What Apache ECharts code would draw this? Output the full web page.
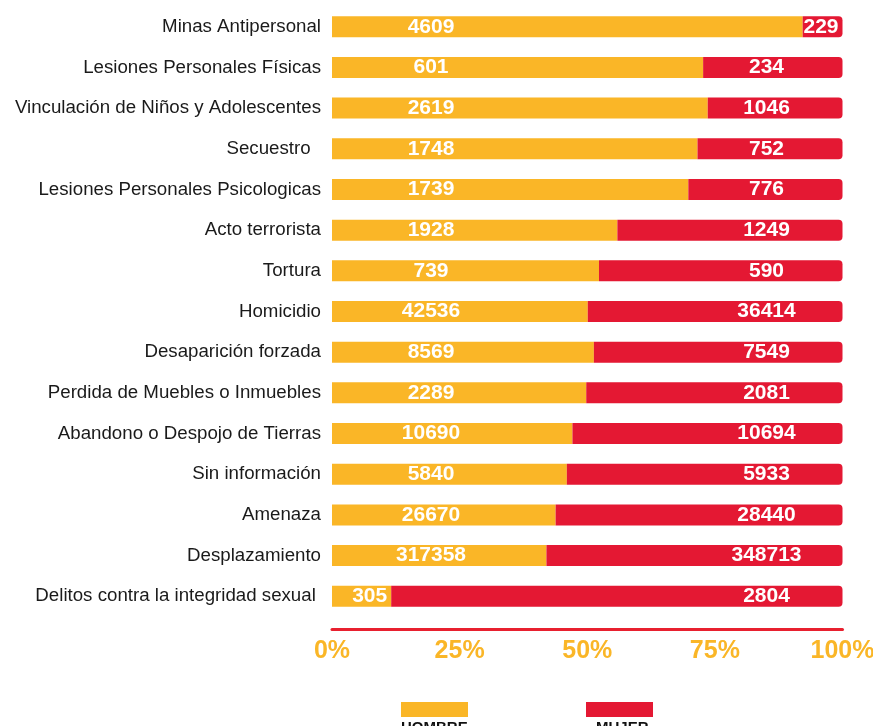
<!DOCTYPE html>
<html>
<head>
<meta charset="utf-8">
<script src="https://cdn.jsdelivr.net/npm/echarts@6/dist/echarts.min.js"></script>
<style>
  html, body { margin: 0; padding: 0; background: #fff; }
  #chart { width: 873px; height: 726px; }
</style>
</head>
<body>
<div id="chart"></div>
<script>
// categorias (de arriba hacia abajo)
var categorias = [
    "Minas Antipersonal",
    "Lesiones Personales Físicas",
    "Vinculación de Niños y Adolescentes",
    "Secuestro  ",
    "Lesiones Personales Psicologicas",
    "Acto terrorista",
    "Tortura",
    "Homicidio",
    "Desaparición forzada",
    "Perdida de Muebles o Inmuebles",
    "Abandono o Despojo de Tierras",
    "Sin información",
    "Amenaza",
    "Desplazamiento",
    "Delitos contra la integridad sexual "
];
// cantidades (etiquetas)
var hombreTotal = [4609, 601, 2619, 1748, 1739, 1928, 739, 42536, 8569, 2289, 10690, 5840, 26670, 317358, 305];
var mujerTotal  = [229, 234, 1046, 752, 776, 1249, 590, 36414, 7549, 2081, 10694, 5933, 28440, 348713, 2804];
var hombrePct = [92.2, 72.7, 73.6, 71.6, 69.8, 55.9, 52.3, 50.1, 51.3, 49.8, 47.1, 46.0, 43.8, 42.0, 11.6];
var mujerPct  = [7.8, 27.3, 26.4, 28.4, 30.2, 44.1, 47.7, 49.9, 48.7, 50.2, 52.9, 54.0, 56.2, 58.0, 88.4];
var ejeTicks = [0, 25, 50, 75, 100];

var NARANJA = '#FAB627';
var ROJO = '#E41833';

var chart = echarts.init(document.getElementById('chart'));

// barras cortas: etiqueta pegada al borde derecho
function armarDatos(valores) {
    return valores.map(function (v) {
        if (v < 15) {
            return { value: v, label: { position: 'insideRight', distance: 4, align: 'right' } };
        }
        return v;
    });
}

var etiqueta = {
    show: true,
    color: '#fff',
    fontFamily: 'Liberation Sans, Arial, sans-serif',
    fontWeight: 'bold',
    fontSize: 21,
    align: 'center',
    verticalAlign: 'middle'
};

var option = {
    animation: false,
    backgroundColor: '#fff',
    grid: { left: 332, right: 30.5, top: 6.4, bottom: 109.4, containLabel: false, outerBoundsMode: 'none' },
    xAxis: {
        type: 'value',
        min: ejeTicks[0],
        max: ejeTicks[ejeTicks.length - 1],
        interval: 25,
        offset: 13,
        axisLine: { show: true, lineStyle: { color: '#E8202F', width: 3, cap: 'round' } },
        axisTick: { show: false },
        splitLine: { show: false },
        axisLabel: {
            formatter: '{value}%',
            color: NARANJA,
            fontFamily: 'Liberation Sans, Arial, sans-serif',
            fontWeight: 'bold',
            fontSize: 25,
            margin: 9
        }
    },
    yAxis: {
        type: 'category',
        inverse: true,
        data: categorias,
        axisLine: { show: false },
        axisTick: { show: false },
        axisLabel: {
            color: '#1a1a1a',
            fontFamily: 'Liberation Sans, Arial, sans-serif',
            fontSize: 18.7,
            margin: 11
        }
    },
    legend: [{
        data: ['HOMBRE'],
        left: 401, top: 702, padding: 0,
        icon: 'rect', itemWidth: 67, itemHeight: 15,
        selectedMode: false,
        formatter: function () { return ''; }
    }, {
        data: ['MUJER'],
        left: 586, top: 702, padding: 0,
        icon: 'rect', itemWidth: 67, itemHeight: 15,
        selectedMode: false,
        formatter: function () { return ''; }
    }],
    graphic: [{
        type: 'text', left: 401, top: 720,
        style: { text: 'HOMBRE', fill: '#111', font: 'bold 15px "Liberation Sans", Arial, sans-serif' }
    }, {
        type: 'text', left: 596, top: 720,
        style: { text: 'MUJER', fill: '#111', font: 'bold 15px "Liberation Sans", Arial, sans-serif' }
    }],
    series: [{
        name: 'HOMBRE',
        type: 'bar',
        stack: 'total',
        barWidth: 21,
        itemStyle: { color: NARANJA },
        label: Object.assign({}, etiqueta, {
            position: 'insideLeft',
            distance: 99,
            formatter: function (p) { return hombreTotal[p.dataIndex]; }
        }),
        data: armarDatos(hombrePct)
    }, {
        name: 'MUJER',
        type: 'bar',
        stack: 'total',
        barWidth: 21,
        itemStyle: { color: ROJO, borderRadius: [0, 4, 4, 0] },
        label: Object.assign({}, etiqueta, {
            position: 'insideRight',
            distance: 76,
            formatter: function (p) { return mujerTotal[p.dataIndex]; }
        }),
        data: armarDatos(mujerPct)
    }]
};

chart.setOption(option);
</script>
</body>
</html>
